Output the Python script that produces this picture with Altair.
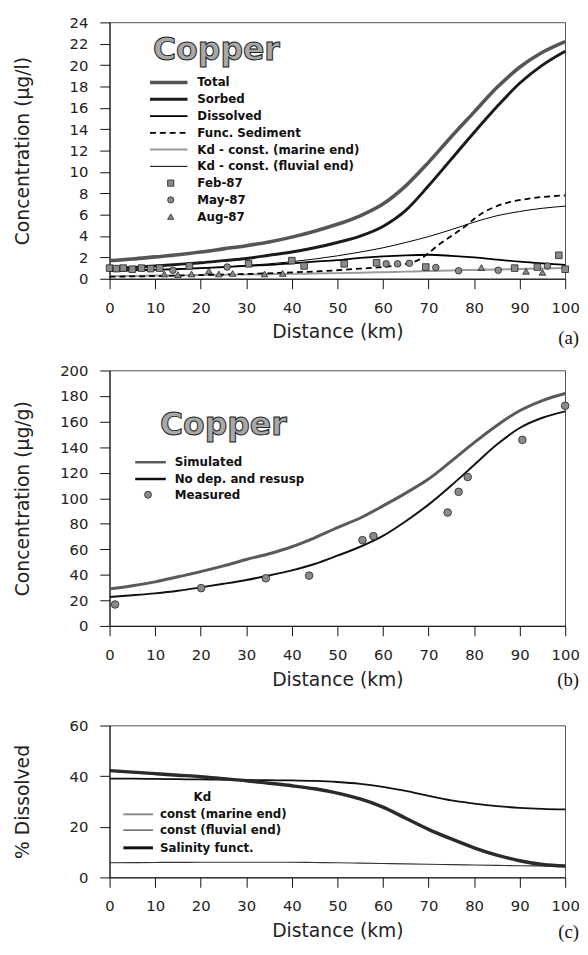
import altair as alt
import pandas as pd

# ---------------- data ----------------
KM = [0, 5, 10, 15, 20, 25, 30, 35, 40, 45, 50, 55, 60, 65, 70, 75, 80, 85, 90, 95, 100]

# panel (a) copper, ug/l
total_a = [1.7, 1.85, 2.05, 2.25, 2.5, 2.8, 3.1, 3.45, 3.9, 4.45, 5.1, 5.9, 7.0, 8.7, 10.9, 13.3, 15.6, 17.9, 19.8, 21.2, 22.2]
sorbed_a = [0.95, 1.05, 1.2, 1.35, 1.5, 1.7, 1.9, 2.2, 2.5, 2.9, 3.4, 4.0, 4.9, 6.4, 8.7, 11.2, 13.7, 16.1, 18.3, 20.0, 21.3]
dissolved_a = [0.75, 0.8, 0.85, 0.9, 1.0, 1.1, 1.2, 1.3, 1.45, 1.6, 1.75, 1.95, 2.1, 2.2, 2.25, 2.15, 2.0, 1.8, 1.6, 1.45, 1.3]
kd_marine_a = [0.25, 0.27, 0.3, 0.32, 0.35, 0.38, 0.4, 0.43, 0.46, 0.5, 0.53, 0.57, 0.62, 0.67, 0.72, 0.78, 0.83, 0.88, 0.92, 0.96, 1.0]
kd_fluvial_a = [0.7, 0.78, 0.85, 0.93, 1.0, 1.1, 1.25, 1.4, 1.6, 1.85, 2.15, 2.5, 2.9, 3.4, 3.95, 4.6, 5.3, 5.9, 6.3, 6.6, 6.8]
FUNC_KM = [0, 10, 20, 30, 40, 50, 55, 60, 65, 68, 70, 72, 75, 78, 80, 82, 85, 88, 92, 96, 100]
func_sed_a = [0.2, 0.25, 0.35, 0.45, 0.6, 0.8, 0.95, 1.1, 1.4, 1.8, 2.4, 3.1, 4.0, 4.9, 5.6, 6.2, 6.8, 7.2, 7.5, 7.7, 7.8]

feb_km = [0, 1.5, 3, 5, 7, 9, 11, 17.5, 30.5, 40, 42.7, 51.5, 58.6, 69.4, 88.9, 93.9, 98.6, 100]
feb_val = [1.0, 0.95, 1.0, 0.9, 1.0, 0.95, 1.0, 1.2, 1.4, 1.7, 1.2, 1.4, 1.5, 1.1, 1.0, 1.1, 2.2, 0.9]
may_km = [13.9, 25.8, 60.7, 63.2, 65.8, 71.6, 76.6, 85.3, 96.1]
may_val = [0.8, 1.1, 1.4, 1.4, 1.45, 1.05, 0.75, 0.8, 1.2]
aug_km = [12, 15, 18, 21.8, 24, 27, 34, 38, 81.6, 91.4, 95]
aug_val = [0.45, 0.4, 0.45, 0.75, 0.45, 0.5, 0.45, 0.5, 1.05, 0.7, 0.6]

# panel (b) particulate copper, ug/g
nodep_b = [29, 31.5, 34.5, 38.5, 42.5, 47, 52, 56.5, 62, 69, 77, 84.5, 94, 104, 115, 129, 143.5, 157, 168.5, 176.5, 182]
simulated_b = [22.7, 24, 25.5, 27.5, 30.2, 33, 36, 39.5, 43.5, 48.5, 55, 62, 70.5, 82, 95, 110, 126, 142, 155, 163, 168]
meas_km = [1.2, 20.1, 34.3, 43.8, 55.5, 57.9, 74.2, 76.6, 78.6, 90.6, 100]
meas_val = [16.8, 29.6, 37.3, 39.4, 67.2, 70.3, 88.8, 105, 116.6, 145.7, 172.4]

# panel (c) % dissolved
salinity_c = [42.2, 41.6, 41.0, 40.4, 39.8, 39.0, 38.2, 37.2, 36.2, 35.0, 33.3, 31.0, 27.8, 23.4, 19.0, 15.2, 11.7, 8.8, 6.6, 5.1, 4.5]
fluvial_c = [39.0, 39.0, 38.9, 38.8, 38.7, 38.6, 38.5, 38.4, 38.3, 38.1, 37.7, 37.0, 35.8, 34.2, 32.2, 30.4, 29.2, 28.2, 27.5, 27.1, 26.9]
marine_c = [5.8, 5.85, 5.9, 5.95, 6.0, 6.0, 6.0, 6.0, 6.0, 5.9, 5.8, 5.65, 5.5, 5.35, 5.2, 5.05, 4.9, 4.75, 4.6, 4.55, 4.5]

XTICKS = list(range(0, 101, 10))
W = 462
FONT = "DejaVu Sans"
LEGFONT = "DejaVu Sans"
ONE = pd.DataFrame({"k": [0]})


def frame(xs, ys):
    return pd.DataFrame({"km": xs, "val": ys})


def xenc():
    return alt.X("km:Q", scale=alt.Scale(domain=[0, 100], nice=False),
                 axis=alt.Axis(title="Distance (km)", values=XTICKS, labelFlush=False,
                               labelOverlap=False))


def yenc(title, top, step, h):
    return alt.Y("val:Q", scale=alt.Scale(domain=[0, top], nice=False),
                 axis=alt.Axis(title=title, values=list(range(0, top + 1, step)),
                               labelOverlap=False, titleX=-88, titleY=h / 2,
                               titleBaseline="middle"))


def line(xs, ys, color, width, dash, ycfg):
    kw = dict(color=color, strokeWidth=width, clip=False, interpolate="monotone")
    if dash:
        kw["strokeDash"] = dash
    return alt.Chart(frame(xs, ys)).mark_line(**kw).encode(x=xenc(), y=yenc(*ycfg))


def points(xs, ys, shape, size, ycfg):
    return alt.Chart(frame(xs, ys)).mark_point(
        shape=shape, filled=True, size=size, color="#8a8a8a", stroke="#222",
        strokeWidth=0.8, opacity=1).encode(x=xenc(), y=yenc(*ycfg))


def leg_line(x1, x2, y, color, width, dash=None):
    kw = dict(color=color, strokeWidth=width)
    if dash:
        kw["strokeDash"] = dash
    return alt.Chart(ONE).mark_rule(**kw).encode(x=alt.value(x1), x2=alt.value(x2), y=alt.value(y))


def leg_text(x, y, label, size=12, weight="bold", align="left"):
    return alt.Chart(ONE).mark_text(align=align, baseline="middle", font=LEGFONT, fontSize=size,
                                    fontWeight=weight, color="#111").encode(
        x=alt.value(x), y=alt.value(y), text=alt.value(label))


def leg_point(x, y, shape, size):
    return alt.Chart(ONE).mark_point(shape=shape, filled=True, size=size, color="#8a8a8a",
                                     stroke="#222", strokeWidth=0.8, opacity=1).encode(
        x=alt.value(x), y=alt.value(y))


def copper(x, y):
    return alt.Chart(ONE).mark_text(align="left", baseline="alphabetic", font=FONT, fontSize=32,
                                    fontWeight="bold", fill="#a8a8a8", stroke="#222",
                                    strokeWidth=1).encode(
        x=alt.value(x), y=alt.value(y), text=alt.value("Copper"))


def tag(label, h, dy):
    return alt.Chart(ONE).mark_text(align="right", baseline="middle", font="Liberation Serif",
                                    fontSize=19, color="#111").encode(
        x=alt.value(W + 14), y=alt.value(h + dy), text=alt.value(label))


def spacer(h, dy):
    return alt.Chart(ONE).mark_rule(color="white", strokeWidth=1, opacity=0).encode(
        x=alt.value(0), x2=alt.value(2), y=alt.value(h + dy))


# ---------------- panel (a) ----------------
HA = 260
YA = ("Concentration (µg/l)", 24, 2, HA)
style_a = [
    ("Kd - const. (marine end)", KM, kd_marine_a, "#9a9a9a", 2, None),
    ("Kd - const. (fluvial end)", KM, kd_fluvial_a, "#000000", 1, None),
    ("Func. Sediment", FUNC_KM, func_sed_a, "#000000", 1.8, [6, 4]),
    ("Dissolved", KM, dissolved_a, "#000000", 1.8, None),
    ("Sorbed", KM, sorbed_a, "#1a1a1a", 3, None),
    ("Total", KM, total_a, "#555555", 3.6, None),
]
lines_a = [line(xs, ys, c, w, d, YA) for _, xs, ys, c, w, d in style_a]
months = [("Feb-87", feb_km, feb_val, "square"), ("May-87", may_km, may_val, "circle"),
          ("Aug-87", aug_km, aug_val, "triangle-up")]
pts_a = [points(xs, ys, shp, 45, YA) for _, xs, ys, shp in months]

leg_a = []
order_a = ["Total", "Sorbed", "Dissolved", "Func. Sediment", "Kd - const. (marine end)",
           "Kd - const. (fluvial end)"]
lookup = {s[0]: s for s in style_a}
for i, n in enumerate(order_a):
    yy = 61 + i * 17
    _, _, _, c, w, d = lookup[n]
    leg_a.append(leg_line(41, 79, yy, c, w, d))
    leg_a.append(leg_text(89, yy, n))
for j, (m, _, _, shp) in enumerate(months):
    yy = 61 + (6 + j) * 17
    leg_a.append(leg_point(62, yy, shp, 40))
    leg_a.append(leg_text(89, yy, m))

panel_a = alt.layer(*lines_a, *pts_a, copper(44, 38), *leg_a, tag("(a)", HA, 60),
                    spacer(HA, 84)).properties(width=W, height=HA)

# ---------------- panel (b) ----------------
HB = 259
YB = ("Concentration (µg/g)", 200, 20, HB)
lines_b = [
    line(KM, nodep_b, "#5a5a5a", 3, None, YB),
    line(KM, simulated_b, "#111111", 2, None, YB),
]
pts_b = points(meas_km, meas_val, "circle", 60, YB)
leg_b = [
    leg_line(26, 57, 93, "#5a5a5a", 2.5), leg_text(66, 93, "Simulated"),
    leg_line(26, 57, 110, "#111111", 2.5), leg_text(66, 110, "No dep. and resusp"),
    leg_point(39, 126, "circle", 50), leg_text(66, 126, "Measured"),
]
panel_b = alt.layer(*lines_b, pts_b, copper(51, 65), *leg_b, tag("(b)", HB, 55),
                    spacer(HB, 92)).properties(width=W, height=HB)

# ---------------- panel (c) ----------------
HC = 154
YC = ("% Dissolved", 60, 20, HC)
lines_c = [
    line(KM, marine_c, "#333333", 1.2, None, YC),
    line(KM, fluvial_c, "#111111", 1.8, None, YC),
    line(KM, salinity_c, "#2a2a2a", 3.5, None, YC),
]
leg_c = [
    leg_text(94, 73, "Kd", align="center"),
    leg_line(14, 44, 90, "#8a8a8a", 2), leg_text(51, 90, "const (marine end)"),
    leg_line(14, 44, 106, "#111111", 1), leg_text(51, 106, "const (fluvial end)"),
    leg_line(14, 44, 124, "#111111", 3), leg_text(51, 124, "Salinity funct."),
]
panel_c = alt.layer(*lines_c, *leg_c, tag("(c)", HC, 55)).properties(width=W, height=HC)

chart = alt.vconcat(panel_a, panel_b, panel_c, spacing=0).properties(
    padding={"top": 0, "left": 5, "right": 0, "bottom": 0}
).configure_view(stroke="#222", strokeWidth=0.8).configure_axis(
    grid=False, domainColor="#111", domainWidth=1, tickColor="#111", tickSize=10,
    labelFont=FONT, labelFontSize=15, labelColor="#222", labelPadding=12,
    titleFont=FONT, titleFontSize=19, titleFontWeight="normal", titleColor="#222",
    titlePadding=8,
)

chart.save("out.html", embed_options={"renderer": "svg", "actions": False})
